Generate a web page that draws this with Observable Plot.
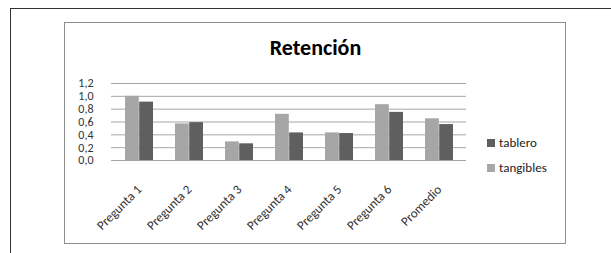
<!DOCTYPE html>
<html><head><meta charset="utf-8">
<script src="https://cdn.jsdelivr.net/npm/d3@7"></script>
<script src="https://cdn.jsdelivr.net/npm/@observablehq/plot@0.6"></script>
<style>
body{margin:0;background:#fff;}
#wrap{position:relative;width:611px;height:253px;overflow:hidden;font-family:Carlito,Calibri,Lato,sans-serif;}
.outer{position:absolute;left:10px;top:8px;width:700px;height:300px;border-left:1px solid #333;border-top:1px solid #333;}
.inner{position:absolute;left:64px;top:22px;width:500px;height:220px;border:1.5px solid #8e8e8e;}
#title{position:absolute;left:65px;width:501px;top:35px;text-align:center;font-weight:bold;font-size:22px;color:#000;line-height:26px;}
.leg{position:absolute;left:487px;font-size:13px;color:#222;line-height:14px;}
.leg i{display:inline-block;width:8px;height:8px;margin-right:4px;vertical-align:0px;}
#wrap svg{position:absolute;left:0;top:0;background:transparent;}
</style></head>
<body><div id="wrap"><div class="outer"></div><div class="inner"></div><div id="title">Retención</div>
<div class="leg" id="leg1"></div><div class="leg" id="leg2"></div></div>
<script>
const categories = ["Pregunta 1","Pregunta 2","Pregunta 3","Pregunta 4","Pregunta 5","Pregunta 6","Promedio"];
const tangibles = [1.0,0.57,0.29,0.72,0.43,0.87,0.65];
const tablero = [0.91,0.59,0.26,0.43,0.42,0.75,0.56];
const yTicks = [0,0.2,0.4,0.6,0.8,1.0,1.2];
const seriesNames = ["tablero","tangibles"];
const seriesColors = ["#5f5f5f","#a6a6a6"];

const rowsT = categories.map((c,i)=>({cat:c,value:tangibles[i]}));
const rowsB = categories.map((c,i)=>({cat:c,value:tablero[i]}));

const chart = Plot.plot({
  width:611,height:253,
  marginLeft:111,marginRight:145,marginTop:83,marginBottom:93,
  style:{fontSize:"13px",fontFamily:"Carlito, Calibri, Lato, sans-serif",color:"#333",background:"transparent"},
  x:{domain:categories,paddingInner:0.44,paddingOuter:0.22},
  y:{domain:[0,1.2]},
  marks:[
    Plot.gridY(yTicks.filter(d=>d>0),{stroke:"#a6a6a6",strokeOpacity:1}),
    Plot.barY(rowsT,{x:"cat",y:"value",fill:seriesColors[1],insetRight:14.2}),
    Plot.barY(rowsB,{x:"cat",y:"value",fill:seriesColors[0],insetLeft:14.2}),
    Plot.ruleY([0],{stroke:"#a6a6a6"}),
    Plot.axisY(yTicks,{tickFormat:d=>d.toFixed(1).replace(".",","),label:null,tickSize:0,tickPadding:18,fontSize:12}),
    Plot.axisX({label:null,tickRotate:-45,tickSize:0,tickPadding:27,fontSize:13})
  ]
});
document.getElementById("wrap").appendChild(chart);
const l1=document.getElementById("leg1"), l2=document.getElementById("leg2");
l1.style.top="136px"; l2.style.top="161px";
l1.innerHTML=`<i style="background:${seriesColors[0]}"></i>${seriesNames[0]}`;
l2.innerHTML=`<i style="background:${seriesColors[1]}"></i>${seriesNames[1]}`;
</script></body></html>
